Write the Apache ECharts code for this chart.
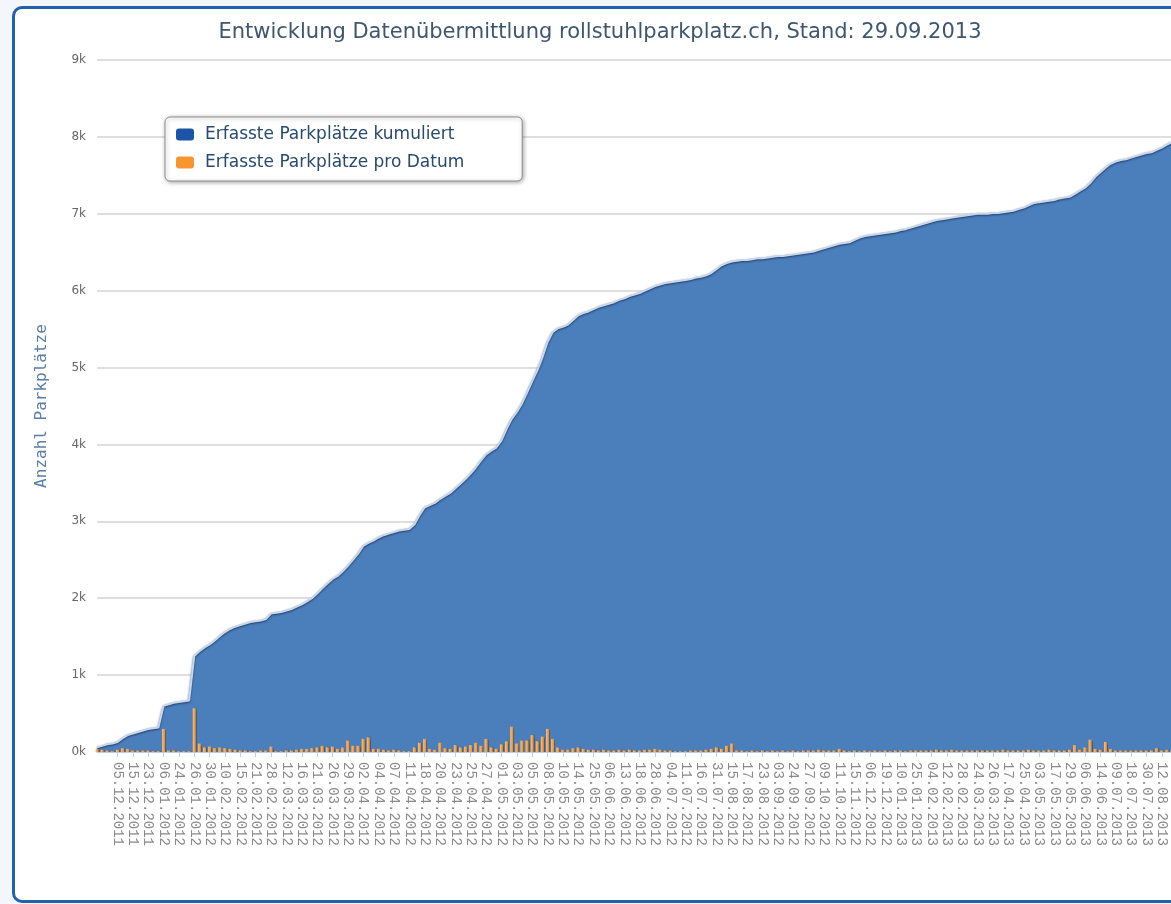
<!DOCTYPE html>
<html>
<head>
<meta charset="utf-8">
<script src="https://cdn.jsdelivr.net/npm/echarts@6/dist/echarts.min.js"></script>
<style>
  html, body { margin: 0; padding: 0; width: 1171px; height: 904px; overflow: hidden; background: #f3f6fa; }
  #frame { position: absolute; left: 12px; top: 6px; width: 1210px; height: 891px; border: 3px solid #2461ad; border-radius: 10px; background: #ffffff; }
  #chart { position: absolute; left: 0; top: 0; width: 1200px; height: 904px; }
</style>
</head>
<body>
<div id="frame"></div>
<div id="chart"></div>
<script>
const titleText = 'Entwicklung Datenübermittlung rollstuhlparkplatz.ch, Stand: 29.09.2013';
const seriesNames = ['Erfasste Parkplätze kumuliert', 'Erfasste Parkplätze pro Datum'];
const yAxisName = 'Anzahl Parkplätze';
const yTicks = [0, 1000, 2000, 3000, 4000, 5000, 6000, 7000, 8000, 9000];

// Dates shown as tick labels (every third data date carries a label)
const tickLabels = [
  '05.12.2011','15.12.2011','23.12.2011','06.01.2012','24.01.2012','26.01.2012','30.01.2012',
  '10.02.2012','15.02.2012','21.02.2012','28.02.2012','12.03.2012','16.03.2012','21.03.2012',
  '26.03.2012','29.03.2012','02.04.2012','04.04.2012','07.04.2012','11.04.2012','18.04.2012',
  '20.04.2012','23.04.2012','25.04.2012','27.04.2012','01.05.2012','03.05.2012','05.05.2012',
  '08.05.2012','10.05.2012','14.05.2012','25.05.2012','06.06.2012','13.06.2012','18.06.2012',
  '28.06.2012','04.07.2012','11.07.2012','16.07.2012','31.07.2012','15.08.2012','17.08.2012',
  '23.08.2012','03.09.2012','24.09.2012','27.09.2012','09.10.2012','11.10.2012','15.11.2012',
  '06.12.2012','19.12.2012','10.01.2013','25.01.2013','04.02.2013','12.02.2013','28.02.2013',
  '24.03.2013','26.03.2013','17.04.2013','25.04.2013','03.05.2013','17.05.2013','29.05.2013',
  '06.06.2013','14.06.2013','09.07.2013','18.07.2013','30.07.2013','12.08.2013'
];
const leadingUnlabeled = 4;   // data dates before the first label
const datesPerLabel = 3;

// Cumulative number of parking spaces (one value per data date)
const cumulative = [
  60,80,100,110,130,180,220,240,260,280,
  300,310,320,600,620,640,650,660,670,1250,
  1310,1360,1400,1450,1510,1560,1600,1630,1650,1670,
  1690,1700,1710,1730,1800,1810,1820,1840,1860,1890,
  1920,1960,2000,2060,2130,2190,2250,2290,2350,2420,
  2500,2580,2680,2720,2750,2790,2820,2840,2860,2880,
  2890,2900,2960,3080,3180,3210,3240,3290,3330,3370,
  3430,3490,3550,3620,3700,3790,3870,3920,3960,4050,
  4200,4330,4420,4530,4670,4820,4960,5130,5330,5460,
  5510,5530,5560,5620,5680,5710,5730,5760,5790,5810,
  5830,5850,5880,5900,5930,5950,5970,6000,6030,6060,
  6080,6100,6110,6120,6130,6140,6150,6170,6180,6200,
  6230,6280,6330,6360,6380,6390,6400,6400,6410,6420,
  6420,6430,6440,6450,6450,6460,6470,6480,6490,6500,
  6510,6530,6550,6570,6590,6610,6620,6630,6660,6690,
  6710,6720,6730,6740,6750,6760,6770,6790,6800,6820,
  6840,6860,6880,6900,6920,6930,6940,6950,6960,6970,
  6980,6990,7000,7000,7000,7010,7010,7020,7030,7040,
  7060,7080,7110,7140,7150,7160,7170,7180,7200,7210,
  7220,7260,7300,7340,7400,7480,7540,7600,7650,7680,
  7700,7710,7730,7750,7770,7790,7800,7830,7860,7900,
  7930
];

// Parking spaces recorded per date
const perDate = [
  40,30,20,10,30,50,40,20,20,20,
  20,10,10,300,20,20,10,10,10,570,
  110,60,70,50,60,50,40,30,20,20,
  10,10,20,20,70,10,10,20,20,30,
  40,40,50,60,80,60,70,40,60,150,
  80,80,170,190,40,40,30,20,30,20,
  10,10,60,120,170,40,30,120,50,40,
  90,60,70,90,120,80,170,60,40,100,
  140,330,110,150,150,220,140,200,300,170,
  60,30,30,50,60,40,30,30,20,30,
  20,20,30,20,30,20,20,30,30,40,
  30,20,20,10,10,10,20,20,20,30,
  40,60,40,80,110,20,20,10,20,10,
  20,10,20,10,20,10,20,10,20,20,
  20,30,20,20,20,40,20,10,20,10,
  20,10,20,10,20,10,20,20,10,20,
  20,20,20,20,30,20,20,30,20,20,
  20,20,20,20,20,20,20,30,20,20,
  20,20,30,20,20,20,30,20,20,20,
  30,90,30,60,160,40,30,130,40,20,
  20,20,20,20,20,20,20,50,20,30,
  20
];

const categories = [];
for (let i = 0; i < leadingUnlabeled; i++) categories.push('');
tickLabels.forEach(function (d) {
  categories.push(d);
  for (let j = 1; j < datesPerLabel; j++) categories.push('');
});

function isLabelled(index) {
  return index >= leadingUnlabeled && (index - leadingUnlabeled) % datesPerLabel === 0;
}

const chart = echarts.init(document.getElementById('chart'), null, { renderer: 'canvas' });
chart.setOption({
  animation: false,
  backgroundColor: 'transparent',
  title: {
    text: titleText,
    left: 'center',
    top: 17,
    textStyle: { fontFamily: 'DejaVu Sans', fontSize: 21, fontWeight: 'normal', color: '#3e576f' }
  },
  legend: {
    orient: 'vertical',
    left: 165,
    top: 117,
    padding: [9, 58, 10, 11],
    itemGap: 11,
    itemWidth: 18,
    itemHeight: 12,
    backgroundColor: '#ffffff',
    borderColor: '#909090',
    borderWidth: 1,
    borderRadius: 5,
    shadowColor: 'rgba(0,0,0,0.35)',
    shadowBlur: 4,
    shadowOffsetX: 1,
    shadowOffsetY: 1,
    textStyle: { fontFamily: 'DejaVu Sans', fontSize: 17, color: '#274b6d', padding: [0, 0, 0, 6] },
    data: [
      { name: seriesNames[0], icon: 'roundRect', itemStyle: { color: '#1c55a6' } },
      { name: seriesNames[1], icon: 'roundRect', itemStyle: { color: '#f7962f' } }
    ]
  },
  grid: { left: 97, right: 28, top: 60, bottom: 152, containLabel: false },
  xAxis: {
    type: 'category',
    data: categories,
    boundaryGap: false,
    axisLine: { lineStyle: { color: '#c0d0e0', width: 1 } },
    axisTick: { show: true, interval: isLabelled, length: 5, lineStyle: { color: '#c0d0e0' } },
    axisLabel: {
      interval: isLabelled,
      rotate: -90,
      margin: 10,
      fontFamily: 'Liberation Mono',
      fontSize: 14,
      color: '#8a8a8a'
    },
    splitLine: { show: false }
  },
  yAxis: {
    type: 'value',
    min: yTicks[0],
    max: yTicks[yTicks.length - 1],
    interval: yTicks[1] - yTicks[0],
    name: yAxisName,
    nameLocation: 'middle',
    nameRotate: 90,
    nameGap: 47,
    nameTextStyle: { fontFamily: 'DejaVu Sans Mono', fontSize: 16, color: '#5a7ea5' },
    axisLine: { show: false },
    axisTick: { show: false },
    axisLabel: {
      margin: 11,
      fontFamily: 'DejaVu Sans',
      fontSize: 12,
      color: '#666666',
      formatter: function (v) { return (v / 1000) + 'k'; }
    },
    splitLine: { lineStyle: { color: '#d4d4d4', width: 1.5 } }
  },
  series: [
    {
      name: seriesNames[0],
      type: 'line',
      data: cumulative,
      symbol: 'none',
      smooth: false,
      z: 2,
      itemStyle: { color: '#1c55a6' },
      lineStyle: {
        color: '#c9d7ea',
        width: 2,
        shadowColor: 'rgba(25,45,85,0.85)',
        shadowBlur: 2,
        shadowOffsetX: 0,
        shadowOffsetY: 1
      },
      areaStyle: { color: '#4a7fbc', opacity: 1 }
    },
    {
      name: seriesNames[1],
      type: 'bar',
      data: perDate,
      barWidth: 3,
      z: 3,
      itemStyle: {
        color: new echarts.graphic.LinearGradient(0, 0, 1, 0, [
          { offset: 0, color: '#fbc07a' },
          { offset: 1, color: '#f0861a' }
        ]),
        shadowColor: 'rgba(0,0,0,0.25)',
        shadowBlur: 1,
        shadowOffsetX: 1
      }
    }
  ]
});
</script>
</body>
</html>
